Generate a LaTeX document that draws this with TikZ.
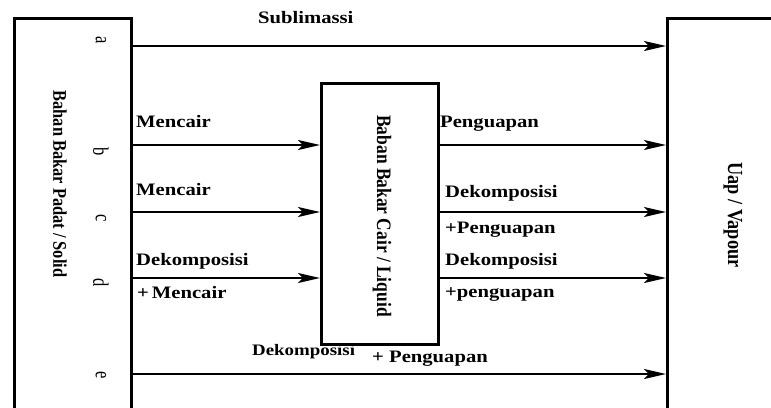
\documentclass[tikz,border=0pt]{standalone}
\usepackage{fontspec}
\setmainfont{Liberation Serif}[FakeStretch=1.18]
\newfontfamily\vfont{Liberation Serif}[FakeStretch=0.85]
\newfontfamily\lfont{Liberation Serif}[FakeStretch=0.75]
\usetikzlibrary{arrows.meta}
\begin{document}
\begin{tikzpicture}[x=1pt,y=-1pt,
  boxline/.style={line width=3pt},
  arr/.style={line width=2.2pt,-{Stealth[length=22pt,width=10pt,inset=5pt]}},
  lbl/.style={anchor=base west,inner sep=0pt,font=\fontsize{17.5}{20}\selectfont\bfseries},
  vlbl/.style={rotate=-90,anchor=center,inner sep=0pt,font=\vfont\fontsize{19.3}{22}\selectfont\bfseries},
  letter/.style={rotate=-90,anchor=center,inner sep=0pt,font=\lfont\fontsize{22}{24}\selectfont}]
\useasboundingbox (0,0) rectangle (771,407);
\fill[white] (0,0) rectangle (771,407);
\clip (0,0) rectangle (771,407);
% boxes
\node[boxline,draw,rectangle,inner sep=0pt,minimum width=117pt,minimum height=420pt,anchor=north west] (solid) at (13,17) {};
\node[boxline,draw,rectangle,inner sep=0pt,minimum width=117pt,minimum height=261pt,anchor=north west] (liquid) at (320,82) {};
\node[boxline,draw,rectangle,inner sep=0pt,minimum width=140pt,minimum height=420pt,anchor=north west] (vapour) at (666,17) {};
% box texts
\node[vlbl] (tsolid) at (60,184) {Bahan Bakar Padat / Solid};
\node[vlbl,font=\vfont\fontsize{20.5}{23}\selectfont\bfseries] (tliquid) at (382,216) {Baban Bakar Cair / Liquid};
\node[vlbl,font=\vfont\fontsize{21.5}{24}\selectfont\bfseries] (tvap) at (733,215) {Uap / Vapour};
% letters
\node[letter] (la) at (101,40) {a};
\node[letter] (lb) at (101,152) {b};
\node[letter] (lc) at (101,218) {c};
\node[letter] (ld) at (101,283) {d};
\node[letter] (le) at (101,375) {e};
% row coordinates
\coordinate (ya) at (0,46);
\coordinate (yb) at (0,145);
\coordinate (yc) at (0,212);
\coordinate (yd) at (0,278);
\coordinate (ye) at (0,374);
% arrows
\draw[arr] (solid.east |- ya) -- (vapour.west |- ya);
\draw[arr] (solid.east |- yb) -- (liquid.west |- yb);
\draw[arr] (solid.east |- yc) -- (liquid.west |- yc);
\draw[arr] (solid.east |- yd) -- (liquid.west |- yd);
\draw[arr] (solid.east |- ye) -- (vapour.west |- ye);
\draw[arr] (liquid.east |- yb) -- (vapour.west |- yb);
\draw[arr] (liquid.east |- yc) -- (vapour.west |- yc);
\draw[arr] (liquid.east |- yd) -- (vapour.west |- yd);
% labels
\node[lbl] (t1) at (258,23) {Sublimassi};
\node[lbl] (t2) at (136,127) {Mencair};
\node[lbl] (t3) at (136,195) {Mencair};
\node[lbl] (t4) at (136,265) {Dekomposisi};
\node[lbl] (t5) at (137,298) {+\,Mencair};
\node[lbl] (t6) at (440,127) {Penguapan};
\node[lbl] (t7) at (445,197) {Dekomposisi};
\node[lbl] (t8) at (445,233) {+Penguapan};
\node[lbl] (t9) at (445,265) {Dekomposisi};
\node[lbl] (t10) at (445,297) {+penguapan};
\node[lbl,font=\fontsize{16}{18}\selectfont\bfseries] (t11) at (252,355) {Dekomposisi};
\node[lbl] (t12) at (372,362) {+ Penguapan};
\end{tikzpicture}
\end{document}
